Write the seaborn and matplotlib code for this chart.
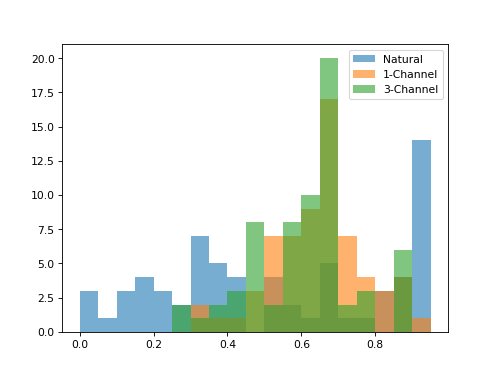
import numpy as np
import seaborn as sns
import matplotlib.pyplot as plt

# bin centres (0.05 wide bins from 0 to 0.95) and counts
bin_centers = np.round(np.arange(0.025, 0.95, 0.05), 3)

natural = [3, 1, 3, 4, 3, 2, 7, 5, 4, 0, 4, 2, 1, 5, 1, 1, 3, 4, 14]
one_channel = [0, 0, 0, 0, 0, 0, 2, 1, 1, 3, 7, 7, 9, 17, 7, 4, 3, 4, 1]
three_channel = [0, 0, 0, 0, 0, 2, 1, 2, 3, 8, 2, 8, 10, 20, 2, 3, 0, 6, 0]

labels = ["Natural", "1-Channel", "3-Channel"]
colors = ["tab:blue", "tab:orange", "tab:green"]

fig, ax = plt.subplots(figsize=(6.4, 4.8), dpi=77.8)

for counts, lab, col in zip([natural, one_channel, three_channel], labels, colors):
    sns.histplot(x=bin_centers, weights=counts, binwidth=0.05, binrange=(0, 0.95),
                 color=col, alpha=0.6, linewidth=0, label=lab, ax=ax)

ax.set_xlabel("")
ax.set_ylabel("")
ax.legend(loc="upper right")

fig.savefig("out.png", dpi=77.8)
